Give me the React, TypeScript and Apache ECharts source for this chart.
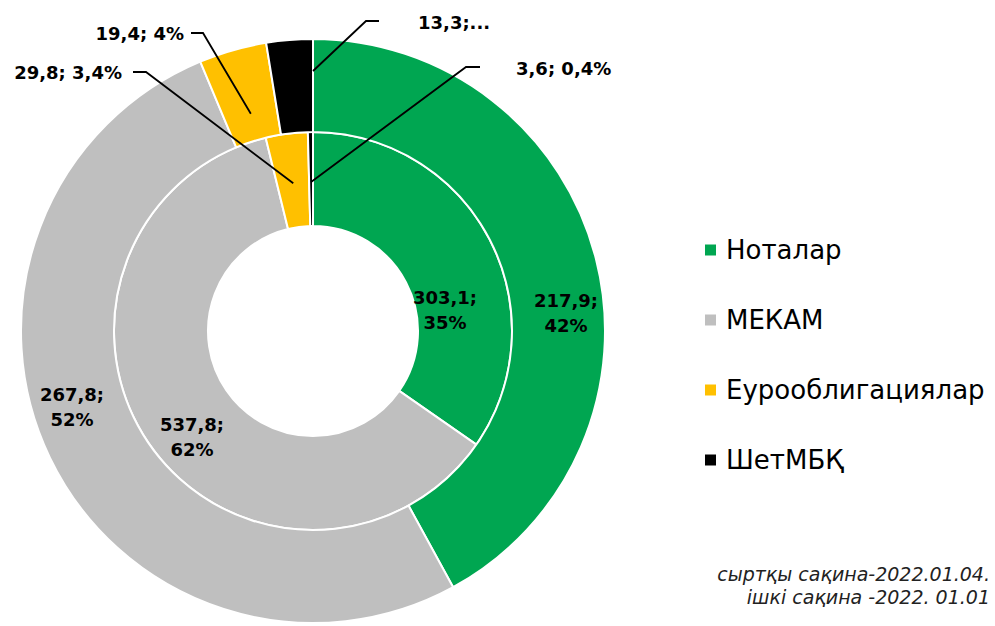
import React, { useEffect, useRef } from "react";
import * as echarts from "echarts";

const categories = ["Ноталар", "МЕКАМ", "Еурооблигациялар", "ШетМБҚ"];
const outerValues = [217.9, 267.8, 19.4, 13.3];
const innerValues = [303.1, 537.8, 29.8, 3.6];
const outerLabels = ["217,9;\n42%", "267,8;\n52%", "19,4; 4%", "13,3;..."];
const innerLabels = ["303,1;\n35%", "537,8;\n62%", "29,8; 3,4%", "3,6; 0,4%"];
const colors = ["#00A651", "#BFBFBF", "#FFC000", "#000000"];
const footnote = "сыртқы сақина-2022.01.04.\nішкі сақина -2022. 01.01";

const CX = 313;
const CY = 331;
const INNER_R: [number, number] = [105, 199];
const OUTER_R: [number, number] = [199, 292];

// label placement (layout only)
type LP = { x: number; y: number; align: string; line?: number[][]; anchorR?: number; anchorF?: number };
const outerLabelPos: LP[] = [
  { x: 566, y: 313, align: "center" },
  { x: 72, y: 407, align: "center" },
  { x: 184, y: 33, align: "right", line: [[203, 33], [191, 33]], anchorR: 226, anchorF: 0.5 },
  { x: 418, y: 22, align: "left", line: [[366, 21], [379, 21]], anchorR: 260, anchorF: 1.0 },
];
const innerLabelPos: LP[] = [
  { x: 445, y: 310, align: "center" },
  { x: 192, y: 437, align: "center" },
  { x: 122, y: 72, align: "right", line: [[146, 72], [133, 72]], anchorR: 149, anchorF: 0.5 },
  { x: 516, y: 68, align: "left", line: [[466, 67], [480, 67]], anchorR: 149, anchorF: 0.5 },
];

const LABEL_FONT = "'DejaVu Sans', 'Open Sans', sans-serif";
const LEGEND_FONT = "'DejaVu Sans', 'Open Sans', sans-serif";

function anchorPoint(values: number[], idx: number, r: number, f: number): number[] {
  const total = values.reduce((a, b) => a + b, 0);
  let before = 0;
  for (let i = 0; i < idx; i++) before += values[i];
  const frac = (before + values[idx] * f) / total;
  const ang = frac * Math.PI * 2;
  return [CX + Math.sin(ang) * r, CY - Math.cos(ang) * r];
}

function buildData(values: number[], labels: string[]) {
  return values.map((v, i) => ({
    name: categories[i],
    value: v,
    itemStyle: { color: colors[i] },
    label: { formatter: labels[i] },
  }));
}

function leaderLines(values: number[], pos: LP[]) {
  const out: any[] = [];
  pos.forEach((p, i) => {
    if (!p.line) return;
    const start = anchorPoint(values, i, p.anchorR || 150, p.anchorF ?? 0.5);
    out.push({
      type: "polyline",
      z: 100,
      shape: { points: [start, p.line[0], p.line[1]] },
      style: { stroke: "#000", lineWidth: 1.8, fill: null },
    });
  });
  return out;
}

export default function App() {
  const ref = useRef<HTMLDivElement>(null);
  useEffect(() => {
    document.body.style.margin = "0";
    if (!ref.current) return;
    const chart = echarts.init(ref.current, undefined, { renderer: "svg" });
    const makeLayout = (pos: LP[]) => (params: any) => {
      const p = pos[params.dataIndex];
      return { x: p.x, y: p.y, align: p.align, verticalAlign: "middle" };
    };
    const labelStyle = {
      show: true,
      position: "inside",
      color: "#000",
      fontSize: 18,
      fontWeight: "bold",
      fontFamily: LABEL_FONT,
      lineHeight: 25,
    };
    chart.setOption({
      animation: false,
      legend: {
        orient: "vertical",
        left: 698,
        top: 230,
        itemWidth: 13,
        itemHeight: 13,
        itemGap: 40,
        icon: "rect",
        data: categories,
        textStyle: {
          fontSize: 26,
          fontFamily: LEGEND_FONT,
          color: "#000",
          lineHeight: 30,
          padding: [0, 0, 0, 4],
        },
      },
      graphic: [
        ...leaderLines(outerValues, outerLabelPos),
        ...leaderLines(innerValues, innerLabelPos),
        {
          type: "text",
          x: 990,
          y: 585,
          style: {
            text: footnote,
            align: "right",
            verticalAlign: "middle",
            fontSize: 19,
            fontStyle: "italic",
            fontWeight: 200,
            fontFamily: LABEL_FONT,
            lineHeight: 23,
            fill: "#222",
          },
        },
      ],
      series: [
        {
          type: "pie",
          name: "inner",
          center: [CX, CY],
          radius: INNER_R,
          clockwise: true,
          startAngle: 90,
          avoidLabelOverlap: false,
          itemStyle: { borderColor: "#fff", borderWidth: 2 },
          label: labelStyle,
          labelLine: { show: false },
          labelLayout: makeLayout(innerLabelPos),
          emphasis: { disabled: true },
          data: buildData(innerValues, innerLabels),
        },
        {
          type: "pie",
          name: "outer",
          center: [CX, CY],
          radius: OUTER_R,
          clockwise: true,
          startAngle: 90,
          avoidLabelOverlap: false,
          itemStyle: { borderColor: "#fff", borderWidth: 2 },
          label: labelStyle,
          labelLine: { show: false },
          labelLayout: makeLayout(outerLabelPos),
          emphasis: { disabled: true },
          data: buildData(outerValues, outerLabels),
        },
      ],
    });
    return () => chart.dispose();
  }, []);
  return <div ref={ref} style={{ width: 995, height: 626 }} />;
}
